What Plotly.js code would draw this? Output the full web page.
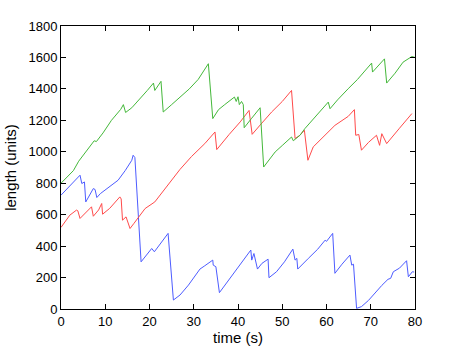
<!DOCTYPE html>
<html>
<head>
<meta charset="utf-8">
<script src="https://cdn.plot.ly/plotly-3.0.1.min.js"></script>
<style>
  html, body { margin: 0; padding: 0; background: #fff; }
  #chart { width: 459px; height: 348px; }
</style>
</head>
<body>
<div id="chart"></div>
<script>
// values
const greenT = [0, 1, 2.8, 4, 5.8, 6.9, 7.5, 8, 9.5, 11.4, 12.5, 13.5, 14.1, 14.6, 16, 18, 19.5, 20.9, 21.2, 22.6, 23.1, 25, 27, 29, 31, 33.3, 34.3, 35.6, 37, 39.2, 39.6, 40, 40.3, 40.8, 41.2, 41.4, 43, 45, 45.8, 47, 48.4, 50, 52.1, 52.5, 54, 55.1, 57, 58.5, 60.4, 60.8, 62.5, 64.9, 67, 70.2, 70.4, 73.1, 73.6, 75.5, 77.3, 79.3, 80];
const greenV = [800, 830, 880, 940, 1010, 1052, 1070, 1065, 1120, 1200, 1240, 1270, 1300, 1250, 1280, 1340, 1390, 1437, 1390, 1448, 1253, 1300, 1352, 1400, 1460, 1560, 1211, 1268, 1300, 1348, 1320, 1350, 1300, 1320, 1300, 1153, 1210, 1280, 903, 950, 999, 1040, 1094, 1070, 1105, 1147, 1210, 1260, 1316, 1274, 1330, 1401, 1460, 1564, 1507, 1591, 1437, 1500, 1570, 1606, 1600];

const redT = [0, 2, 3.5, 3.8, 4.3, 5.5, 6.9, 7.3, 8.5, 9.2, 9.4, 11, 13.3, 13.6, 13.9, 14.7, 15.6, 16.5, 19, 21.2, 24, 26.9, 29.5, 32.5, 34.8, 35.2, 38, 40.5, 42.5, 43.2, 45, 47.6, 50, 52.1, 52.9, 54, 55, 55.8, 57, 59.5, 61.9, 64.9, 66.3, 66.6, 67.3, 67.9, 69.5, 71.3, 72, 72.5, 73.6, 76.5, 79.3];
const redV = [519, 597, 629, 625, 576, 610, 650, 590, 630, 671, 603, 640, 713, 700, 565, 586, 512, 545, 639, 681, 780, 888, 970, 1052, 1126, 1014, 1110, 1190, 1263, 1111, 1170, 1253, 1320, 1390, 1084, 1105, 1137, 946, 1031, 1100, 1168, 1225, 1268, 1105, 1110, 1010, 1060, 1105, 1041, 1115, 1052, 1150, 1243];

const blueT = [0, 1.5, 3.2, 4.3, 4.7, 5.3, 5.6, 7.3, 7.7, 8.1, 8.9, 10.5, 12.9, 14.5, 16, 16.3, 16.7, 18.1, 20.5, 21.1, 24.2, 25.4, 26.9, 28.8, 31.4, 32.5, 33.3, 34, 34.3, 34.4, 35, 35.8, 38.5, 41.2, 42.9, 43.1, 43.6, 44.4, 45.4, 46.8, 47, 48.7, 50.5, 52.4, 52.9, 53.3, 53.5, 55.9, 58, 59.7, 60, 61.4, 61.9, 63.5, 65.3, 65.7, 66.1, 66.8, 67.9, 69.5, 70.9, 72.5, 73.9, 74.5, 75.1, 76.5, 78.1, 78.5, 79.4, 79.8];
const blueV = [724, 770, 819, 851, 798, 808, 681, 766, 760, 709, 734, 770, 819, 880, 946, 978, 963, 300, 385, 364, 481, 57, 89, 152, 254, 275, 290, 300, 311, 279, 269, 104, 210, 311, 375, 311, 353, 254, 290, 317, 199, 237, 300, 381, 311, 322, 254, 322, 380, 438, 430, 481, 227, 285, 343, 279, 285, 4, 15, 55, 100, 150, 189, 195, 237, 260, 307, 205, 237, 235];

const xTicks = [0, 10, 20, 30, 40, 50, 60, 70, 80];
const yTicks = [0, 200, 400, 600, 800, 1000, 1200, 1400, 1600, 1800];

const font = "'Liberation Sans', Arial, sans-serif";

function axis(range, ticks, title, standoff) {
  return {
    range: range,
    tickvals: ticks,
    showgrid: false,
    zeroline: false,
    showline: true,
    mirror: 'ticks',
    linecolor: '#000',
    linewidth: 1,
    ticks: 'inside',
    ticklen: 5,
    tickcolor: '#000',
    automargin: false,
    tickfont: { family: font, size: 13, color: '#000' },
    title: { text: title, standoff: standoff, font: { family: font, size: 15, color: '#000' } },
  };
}

const data = [
  { type: 'scatter', mode: 'lines', x: blueT, y: blueV, line: { color: '#4d5cff', width: 1 } },
  { type: 'scatter', mode: 'lines', x: redT, y: redV, line: { color: '#ff4a4a', width: 1 } },
  { type: 'scatter', mode: 'lines', x: greenT, y: greenV, line: { color: '#44b83a', width: 1 } },
];

const layout = {
  width: 459,
  height: 348,
  paper_bgcolor: '#fff',
  plot_bgcolor: '#fff',
  showlegend: false,
  margin: { l: 61, r: 44, t: 26, b: 39 },
  xaxis: axis([0, 80], xTicks, 'time (s)', 2),
  yaxis: axis([0, 1800], yTicks, 'length (units)', 8),
};

Plotly.newPlot('chart', data, layout, { displayModeBar: false, staticPlot: true });
</script>
</body>
</html>
